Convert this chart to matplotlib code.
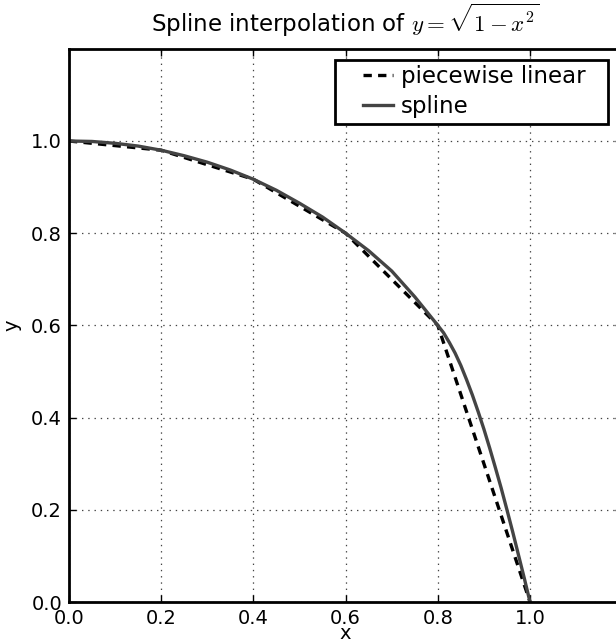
import numpy as np
import matplotlib
matplotlib.use("Agg")
import matplotlib.pyplot as plt
from matplotlib.patches import Rectangle

# knots (piecewise linear)
x_knots = [0.0, 0.2, 0.4, 0.6, 0.8, 1.0]
y_knots = [1.0, 0.98, 0.917, 0.8, 0.6, 0.0]

# spline curve
x_spline = [0.0, 0.05, 0.1, 0.15, 0.2, 0.25, 0.3, 0.35, 0.4, 0.45, 0.5, 0.55,
            0.6, 0.65, 0.7, 0.75, 0.8, 0.8125, 0.825, 0.8375, 0.85, 0.8625,
            0.875, 0.8875, 0.9, 0.9125, 0.925, 0.9375, 0.95, 0.9625, 0.975,
            0.9875, 1.0]
y_spline = [1.0, 0.999, 0.995, 0.989, 0.98, 0.968, 0.954, 0.937, 0.917, 0.893,
            0.865, 0.835, 0.8, 0.762, 0.718, 0.662, 0.6, 0.584, 0.563, 0.540,
            0.513, 0.482, 0.449, 0.413, 0.375, 0.334, 0.291, 0.247, 0.2, 0.152,
            0.102, 0.052, 0.0]

xticks = [0.0, 0.2, 0.4, 0.6, 0.8, 1.0]
yticks = [0.0, 0.2, 0.4, 0.6, 0.8, 1.0]

plt.rcParams['mathtext.fontset'] = 'cm'
plt.rcParams['font.family'] = ['DejaVu Sans']
plt.rcParams['lines.scale_dashes'] = False

W, H = 616, 643
fig = plt.figure(figsize=(W / 100, H / 100), dpi=100)
ax = fig.add_axes([69/W, 41/H, 553.2/W, 553.2/H])

l1, = ax.plot(x_knots, y_knots, color='black', linestyle='--', dashes=(6, 4.5),
              linewidth=2.4, label='piecewise linear')
l2, = ax.plot(x_spline, y_spline, color='#444444', linewidth=2.4, label='spline')

ax.set_xlim(0, 1.2)
ax.set_ylim(0, 1.2)
ax.set_xticks(xticks)
ax.set_yticks(yticks)
ax.set_xticklabels([f"{v:.1f}" for v in xticks])
ax.set_yticklabels([f"{v:.1f}" for v in yticks])

ax.grid(True, color='#444444', linestyle=(0, (1, 3.5)), linewidth=0.9)
ax.tick_params(direction='in', length=5, width=1, top=True, right=True,
               labelsize=14, colors='black')
ax.tick_params(axis='x', pad=5)
ax.tick_params(axis='y', pad=5)
for s in ax.spines.values():
    s.set_linewidth(2.0)

ax.set_xlabel('x', fontsize=14, labelpad=-3)
ax.set_ylabel('y', fontsize=14, labelpad=7)
ax.set_title(r'Spline interpolation of $y=\sqrt{1-x^2}$', fontsize=16.5, pad=12)

# legend frame (old-style wide box)
frame = Rectangle((335 / W, 1 - 124 / H), (608 - 335) / W, (124 - 60) / H,
                  transform=fig.transFigure, facecolor='white',
                  edgecolor='black', linewidth=2.0, zorder=4)
ax.add_patch(frame)
frame.set_clip_on(False)

leg = ax.legend(loc='upper left', bbox_to_anchor=(356 / W, 1 - 58 / H),
                bbox_transform=fig.transFigure, borderaxespad=0,
                fontsize=16.5, frameon=False, handlelength=1.31,
                handletextpad=0.35, borderpad=0.3, labelspacing=0.32)
leg.set_zorder(5)

fig.savefig('out.png', dpi=100)
